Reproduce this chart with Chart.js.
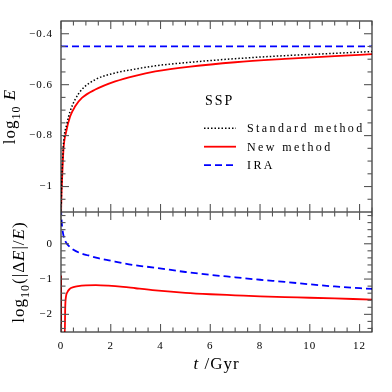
<!DOCTYPE html>
<html>
<head>
<meta charset="utf-8">
<script src="https://cdn.jsdelivr.net/npm/chart.js@4.4.0/dist/chart.umd.min.js"></script>
<style>
  html, body { margin: 0; padding: 0; background: #fff; }
</style>
</head>
<body>
<canvas id="chart" width="392" height="392"></canvas>
<script>
// tick labels
var xTicks = [0, 2, 4, 6, 8, 10, 12];
var topTicks = [-1, -0.8, -0.6, -0.4];
var botTicks = [-2, -1, 0];
var legendLabels = ['Standard method', 'New method', 'IRA'];

// top panel: log10 E
var stdT = [0, 0.02, 0.05, 0.1, 0.23, 0.37, 0.57, 0.84, 1.38, 2.18, 2.98, 3.79, 5.2, 7, 9, 11, 12.5];
var stdE = [-1.15, -1.02, -0.93, -0.83, -0.756, -0.704, -0.658, -0.619, -0.58, -0.554, -0.539, -0.526, -0.512, -0.498, -0.486, -0.477, -0.47];
var newT = [0, 0.005, 0.02, 0.04, 0.1, 0.2, 0.37, 0.57, 0.84, 1.38, 2.18, 2.98, 3.79, 5.2, 7, 9, 11, 12.5];
var newE = [-1.15, -1.1, -1.03, -0.98, -0.853, -0.788, -0.724, -0.685, -0.652, -0.619, -0.587, -0.565, -0.548, -0.529, -0.512, -0.499, -0.488, -0.48];
var iraT = [0, 12.5];
var iraE = [-0.45, -0.45];

// bottom panel: log10(|dE|/E)
var dNewT = [0, 0.008, 0.06, 0.15, 0.17, 0.2, 0.25, 0.35, 0.5, 0.7, 1.0, 1.4, 1.9, 2.5, 3.0, 3.8, 5, 6, 7, 8, 9, 10, 11, 12.5];
var dNewV = [-0.9, -2.6, -2.6, -2.6, -1.8, -1.5, -1.38, -1.28, -1.23, -1.2, -1.18, -1.17, -1.185, -1.22, -1.26, -1.32, -1.39, -1.43, -1.46, -1.49, -1.51, -1.53, -1.55, -1.58];
var dIraT = [0, 0.02, 0.05, 0.1, 0.2, 0.3, 0.5, 0.8, 1.1, 1.5, 2, 2.5, 3, 3.8, 5, 6, 7, 8, 9, 10, 11, 12.5];
var dIraV = [1.0, 0.7, 0.45, 0.23, 0.04, -0.05, -0.17, -0.27, -0.33, -0.41, -0.48, -0.55, -0.61, -0.68, -0.80, -0.88, -0.95, -1.02, -1.08, -1.15, -1.21, -1.28];

var FONT = 'Liberation Serif';

function pts(t, v) {
    return t.map(function(x, i) { return { x: x, y: v[i] }; });
}

function fmt(v) {
    return v < 0 ? '\u2212' + String(Math.abs(v)) : String(v);
}

function fixTicks(list) {
    return function(s) { s.ticks = list.map(function(v) { return { value: v }; }); };
}

var styles = {
    std: { color: '#000', width: 1.5, dash: [1.5, 2] },
    neu: { color: '#ff0000', width: 1.8, dash: [] },
    ira: { color: '#0000ff', width: 1.8, dash: [7, 4] }
};

function ds(data, axis, st) {
    return {
        data: data, yAxisID: axis, borderColor: st.color, borderWidth: st.width,
        borderDash: st.dash, pointRadius: 0, fill: false, cubicInterpolationMode: 'monotone'
    };
}

// draws a sequence of [text, style] pieces, style: '' | 'i' (italic) | 's' (subscript)
function rich(c, segs, x, y, size, angle) {
    c.save();
    c.translate(x, y);
    c.rotate(angle);
    c.letterSpacing = '1px';
    var fonts = segs.map(function(s) {
        if (s[1] === 'i') return 'italic ' + size + 'px "' + FONT + '"';
        if (s[1] === 's') return Math.round(size * 0.7) + 'px "' + FONT + '"';
        return size + 'px "' + FONT + '"';
    });
    var w = 0, ws = [];
    segs.forEach(function(s, i) { c.font = fonts[i]; ws.push(c.measureText(s[0]).width); w += ws[i]; });
    var p = -w / 2;
    c.textBaseline = 'alphabetic';
    c.fillStyle = '#000';
    segs.forEach(function(s, i) {
        c.font = fonts[i];
        c.fillText(s[0], p, s[1] === 's' ? size * 0.28 : 0);
        p += ws[i];
    });
    c.restore();
}

var framePlugin = {
    id: 'frame',
    beforeDraw: function(chart) { chart.ctx.letterSpacing = '1px'; },
    afterDraw: function(chart) {
        var c = chart.ctx, a = chart.chartArea;
        var sx = chart.scales.x, yt = chart.scales.yTop, yb = chart.scales.yBot;
        var mid = yt.bottom;
        c.save();
        c.strokeStyle = '#000';
        c.lineWidth = 1;
        c.strokeRect(a.left, a.top, a.right - a.left, a.bottom - a.top);
        c.beginPath(); c.moveTo(a.left, mid); c.lineTo(a.right, mid); c.stroke();

        c.strokeStyle = '#555';
        c.lineWidth = 1.1;
        function seg(x1, y1, x2, y2) { c.beginPath(); c.moveTo(x1, y1); c.lineTo(x2, y2); c.stroke(); }
        function tx(v, len) {
            var px = sx.getPixelForValue(v);
            seg(px, a.top, px, a.top + len);
            seg(px, mid - len, px, mid + len);
            seg(px, a.bottom, px, a.bottom - len);
        }
        function ty(s, v, len) {
            var py = s.getPixelForValue(v);
            seg(a.left, py, a.left + len, py);
            seg(a.right, py, a.right - len, py);
        }
        var i;
        for (i = 1; i <= 25; i++) if (i % 4) tx(i * 0.5, 4.5);
        xTicks.forEach(function(v) { tx(v, 8); });
        for (i = -21; i <= -8; i++) if (i % 4) ty(yt, i * 0.05, 4.5);
        topTicks.forEach(function(v) { ty(yt, v, 8); });
        for (i = -12; i <= 4; i++) if (i % 5) ty(yb, i * 0.2, 4.5);
        botTicks.forEach(function(v) { ty(yb, v, 8); });

        // legend
        c.fillStyle = '#000';
        c.letterSpacing = '2px';
        c.font = '14px "' + FONT + '"';
        c.textBaseline = 'alphabetic';
        c.fillText('SSP', 205, 105);
        c.font = '12px "' + FONT + '"';
        c.letterSpacing = '2.4px';
        [styles.std, styles.neu, styles.ira].forEach(function(st, k) {
            var ly = 128.3 + k * 18.4;
            c.strokeStyle = st.color;
            c.lineWidth = st.width;
            c.setLineDash(st.dash);
            seg(204, ly, 236, ly);
            c.setLineDash([]);
            c.fillText(legendLabels[k], 247, ly + 4);
        });

        // axis titles
        rich(c, [['log', ''], ['10', 's'], [' ', ''], ['E', 'i']], 15, (yt.top + yt.bottom) / 2, 17, -Math.PI / 2);
        rich(c, [['log', ''], ['10', 's'], ['(|\u0394', ''], ['E', 'i'], ['|/', ''], ['E', 'i'], [')', '']], 24, (yb.top + yb.bottom) / 2, 17, -Math.PI / 2);
        rich(c, [['t', 'i'], [' /Gyr', '']], (a.left + a.right) / 2, 369, 17, 0);
        c.restore();
    }
};

var tickFont = { family: FONT, size: 11 };

new Chart(document.getElementById('chart').getContext('2d'), {
    type: 'line',
    data: {
        datasets: [
            ds(pts(stdT, stdE), 'yTop', styles.std),
            ds(pts(newT, newE), 'yTop', styles.neu),
            ds(pts(iraT, iraE), 'yTop', styles.ira),
            ds(pts(dNewT, dNewV), 'yBot', styles.neu),
            ds(pts(dIraT, dIraV), 'yBot', styles.ira)
        ]
    },
    options: {
        responsive: false,
        animation: false,
        devicePixelRatio: 1,
        layout: { padding: { top: 21, right: 20, left: 0, bottom: 0 } },
        plugins: { legend: { display: false }, tooltip: { enabled: false } },
        scales: {
            x: {
                type: 'linear', min: 0, max: 12.5,
                grid: { display: false, drawTicks: false }, border: { display: false },
                ticks: { padding: 8, font: tickFont, color: '#000', maxRotation: 0, callback: fmt },
                afterBuildTicks: fixTicks(xTicks),
                afterFit: function(s) { s.height = 60; }
            },
            yBot: {
                type: 'linear', position: 'left', stack: 'panel', stackWeight: 120,
                min: -2.5, max: 0.9,
                grid: { display: false, drawTicks: false }, border: { display: false },
                ticks: { padding: 8, font: tickFont, color: '#000', callback: fmt },
                afterBuildTicks: fixTicks(botTicks),
                afterFit: function(s) { s.width = 61; }
            },
            yTop: {
                type: 'linear', position: 'left', stack: 'panel', stackWeight: 191,
                min: -1.1, max: -0.35,
                grid: { display: false, drawTicks: false }, border: { display: false },
                ticks: { padding: 8, font: tickFont, color: '#000', callback: fmt },
                afterBuildTicks: fixTicks(topTicks),
                afterFit: function(s) { s.width = 61; }
            }
        }
    },
    plugins: [framePlugin]
});
</script>
</body>
</html>
